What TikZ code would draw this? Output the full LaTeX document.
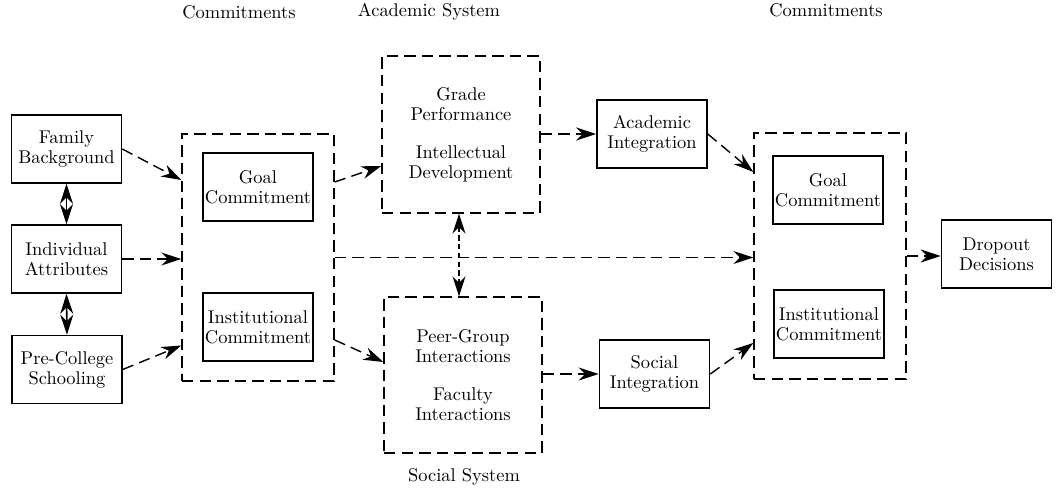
\documentclass[tikz,border=0pt]{standalone}
\usetikzlibrary{arrows.meta}
\tikzset{
  box/.style={draw, line width=0.9pt, align=center, minimum width=2.2cm, minimum height=1.36cm,
    inner sep=1pt, font=\fontsize{10.5}{11.5}\selectfont},
  group/.style={draw, line width=0.8pt, dash pattern=on 6.5pt off 3.5pt, inner sep=0pt},
  flow/.style={->, line width=0.8pt, dash pattern=on 6.5pt off 3.5pt},
  link/.style={<->, line width=0.9pt},
  heading/.style={font=\fontsize{10.5}{12}\selectfont}
}
\begin{document}
\begin{tikzpicture}[x=0.02cm, y=-0.02cm, >={Stealth[length=4mm,width=2.6mm]}]
    \useasboundingbox (0,0) rectangle (1064,497);
    % Headings
    \node[heading] (hcomA) at (239,12) {Commitments};
    \node[heading] (hacad) at (429,12) {Academic System};
    \node[heading] (hcomB) at (826,10) {Commitments};
    \node[heading] (hsoc) at (464,477) {Social System};
    % Background boxes
    \node[box] (fam) at (66.5,149) {Family\\Background};
    \node[box] (ind) at (66.5,259) {Individual\\Attributes};
    \node[box] (pre) at (67,369.5) {Pre-College\\Schooling};
    % First commitments
    \node[group, minimum width=3.04cm, minimum height=4.94cm] (comA) at (258,257.5) {};
    \node[box] (goalA) at (258,187) {Goal\\Commitment};
    \node[box] (instA) at (258,327) {Institutional\\Commitment};
    % Academic and social systems
    \node[box, group, align=center, font=\fontsize{10.5}{11.5}\selectfont, minimum width=3.16cm, minimum height=3.14cm] (acad) at (461,134.5)
      {Grade\\Performance\\[2.2ex]Intellectual\\Development};
    \node[box, group, align=center, font=\fontsize{10.5}{11.5}\selectfont, minimum width=3.16cm, minimum height=3.12cm] (soc) at (463,375)
      {Peer-Group\\Interactions\\[2.2ex]Faculty\\Interactions};
    \node[box] (acadInt) at (652,134) {Academic\\Integration};
    \node[box] (socInt) at (654.5,374) {Social\\Integration};
    % Second commitments
    \node[group, minimum width=3.04cm, minimum height=4.92cm] (comB) at (830,256) {};
    \node[box] (goalB) at (828,190) {Goal\\Commitment};
    \node[box] (instB) at (829,324) {Institutional\\Commitment};
    \node[box] (drop) at (996.5,254) {Dropout\\Decisions};
    % Links between backgrounds
    \draw[link] (fam.south) -- (ind.north);
    \draw[link] (ind.south) -- (pre.north);
    % Flows into commitments
    \draw[flow] (fam.east) -- ([yshift=1.55cm]comA.west);
    \draw[flow] (ind.east) -- (ind.east -| comA.west);
    \draw[flow] (pre.east) -- ([yshift=-1.76cm]comA.west);
    % Flows into systems
    \draw[flow] ([yshift=1.51cm]comA.east) -- ([yshift=-0.63cm]acad.west);
    \draw[flow] ([yshift=-1.65cm]comA.east) -- ([yshift=0.26cm]soc.west);
    \draw[flow, <->, dash pattern=on 3pt off 2pt] (acad.south -| 459,0) -- (soc.north -| 459,0);
    \draw[flow] (acadInt.west -| acad.east) -- (acadInt.west);
    \draw[flow] (socInt.west -| soc.east) -- (socInt.west);
    % Flows into later commitments
    \draw[flow] (comA.east) -- (comA.east -| comB.west);
    \draw[flow] (acadInt.east) -- ([yshift=1.68cm]comB.west);
    \draw[flow] (socInt.east) -- ([yshift=-1.74cm]comB.west);
    \draw[flow] (comB.east) -- (comB.east -| drop.west);
\end{tikzpicture}
\end{document}
